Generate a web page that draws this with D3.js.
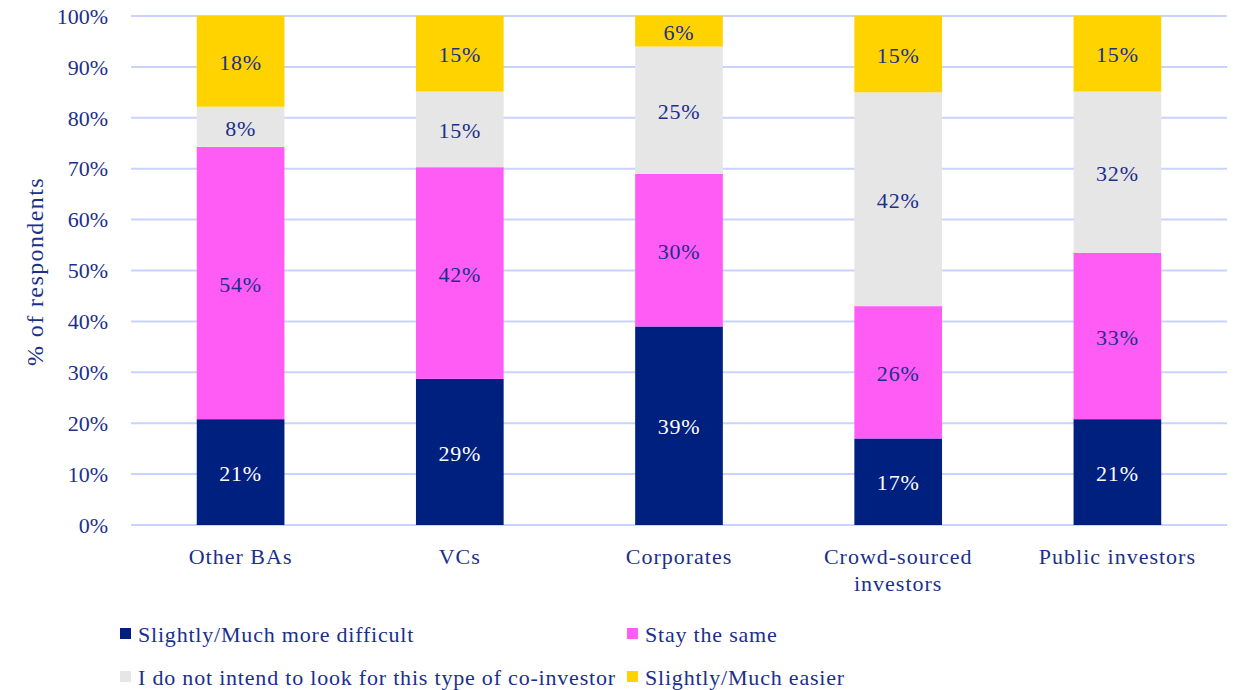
<!DOCTYPE html>
<html>
<head>
<meta charset="utf-8">
<script src="https://cdn.jsdelivr.net/npm/d3@7"></script>
<style>
  body { margin: 0; background: #fff; }
  text { font-family: "Liberation Serif", "Times New Roman", serif; fill: #1b2f8c; }
</style>
</head>
<body>
<div id="chart"></div>
<script>
// data
var categories = ["Other BAs", "VCs", "Corporates", "Crowd-sourced investors", "Public investors"];
var seriesNames = ["Slightly/Much more difficult", "Stay the same", "I do not intend to look for this type of co-investor", "Slightly/Much easier"];
var harder = [21, 29, 39, 17, 21];
var same = [54, 42, 30, 26, 33];
var noIntent = [8, 15, 25, 42, 32];
var easier = [18, 15, 6, 15, 15];
var yTicks = [0, 10, 20, 30, 40, 50, 60, 70, 80, 90, 100];

var colors = ["#00207f", "#ff5cf5", "#e6e6e6", "#ffd300"];
var labelColors = ["#ffffff", "#1b2f8c", "#1b2f8c", "#1b2f8c"];

var W = 1238, H = 690;
var margin = {left: 131, right: 11, top: 16, bottom: 165};

var svg = d3.select("#chart").append("svg")
    .attr("width", W)
    .attr("height", H);

var x = d3.scaleBand()
    .domain(categories)
    .range([margin.left, W - margin.right])
    .paddingInner(0.6)
    .paddingOuter(0.3);

var y = d3.scaleLinear()
    .domain([0, 100])
    .range([H - margin.bottom, margin.top]);

// rows, normalised to 100%
var rows = categories.map(function(c, i) {
  var r = {cat: c, v: [harder[i], same[i], noIntent[i], easier[i]]};
  var tot = d3.sum(r.v);
  r.n = r.v.map(function(d) { return d / tot * 100; });
  return r;
});

var keys = [0, 1, 2, 3];
var stack = d3.stack()
    .keys(keys)
    .value(function(d, k) { return d.n[k]; });
var layers = stack(rows);

// gridlines
svg.append("g")
  .selectAll("line")
  .data(yTicks)
  .enter().append("line")
    .attr("x1", margin.left)
    .attr("x2", W - margin.right)
    .attr("y1", function(d) { return y(d); })
    .attr("y2", function(d) { return y(d); })
    .attr("stroke", "#c9d3ff")
    .attr("stroke-width", 2);

// y tick labels
svg.append("g")
  .selectAll("text")
  .data(yTicks)
  .enter().append("text")
    .attr("x", 108)
    .attr("y", function(d) { return y(d); })
    .attr("dy", "0.35em")
    .attr("text-anchor", "end")
    .style("font-size", "22px")
    .text(function(d) { return d + "%"; });

// y title
svg.append("text")
    .attr("transform", "translate(43," + (y(50) + 1) + ") rotate(-90)")
    .attr("text-anchor", "middle")
    .style("font-size", "24px")
    .style("letter-spacing", "1.4px")
    .text("% of respondents");

// bars
var g = svg.append("g")
  .selectAll("g")
  .data(layers)
  .enter().append("g")
    .attr("fill", function(d) { return colors[d.key]; });

g.selectAll("rect")
  .data(function(d) { return d; })
  .enter().append("rect")
    .attr("x", function(d) { return x(d.data.cat); })
    .attr("width", x.bandwidth())
    .attr("y", function(d) { return y(d[1]); })
    .attr("height", function(d) { return y(d[0]) - y(d[1]); });

// value labels
layers.forEach(function(layer) {
  svg.append("g")
    .selectAll("text")
    .data(layer)
    .enter().append("text")
      .attr("x", function(d) { return x(d.data.cat) + x.bandwidth() / 2; })
      .attr("y", function(d) { return y((d[0] + d[1]) / 2) + 1; })
      .attr("dy", "0.35em")
      .attr("text-anchor", "middle")
      .style("font-size", "22px")
      .style("letter-spacing", "0.8px")
      .style("fill", labelColors[layer.key])
      .text(function(d) { return d.data.v[layer.key] + "%"; });
});

// category labels
var xl = svg.append("g")
  .selectAll("text")
  .data(categories)
  .enter().append("text")
    .attr("x", function(d) { return x(d) + x.bandwidth() / 2; })
    .attr("y", 564)
    .attr("text-anchor", "middle")
    .style("font-size", "22px")
    .style("letter-spacing", "1px");
xl.each(function(d) {
  var t = d3.select(this);
  var parts = d === "Crowd-sourced investors" ? ["Crowd-sourced", "investors"] : [d];
  parts.forEach(function(p, i) {
    t.append("tspan")
      .attr("x", x(d) + x.bandwidth() / 2)
      .attr("dy", i === 0 ? 0 : 27)
      .text(p);
  });
});

// legend
var legendPos = [[120, 634], [627, 634], [120, 677], [627, 677]];
var lg = svg.append("g")
  .selectAll("g")
  .data(seriesNames)
  .enter().append("g")
    .attr("transform", function(d, i) { return "translate(" + legendPos[i][0] + "," + legendPos[i][1] + ")"; });
lg.append("rect")
    .attr("x", 0)
    .attr("y", -6)
    .attr("width", 11)
    .attr("height", 11)
    .attr("fill", function(d, i) { return colors[i]; });
lg.append("text")
    .attr("x", 18)
    .attr("dy", "0.35em")
    .style("font-size", "22px")
    .style("letter-spacing", "0.8px")
    .text(function(d) { return d; });
</script>
</body>
</html>
